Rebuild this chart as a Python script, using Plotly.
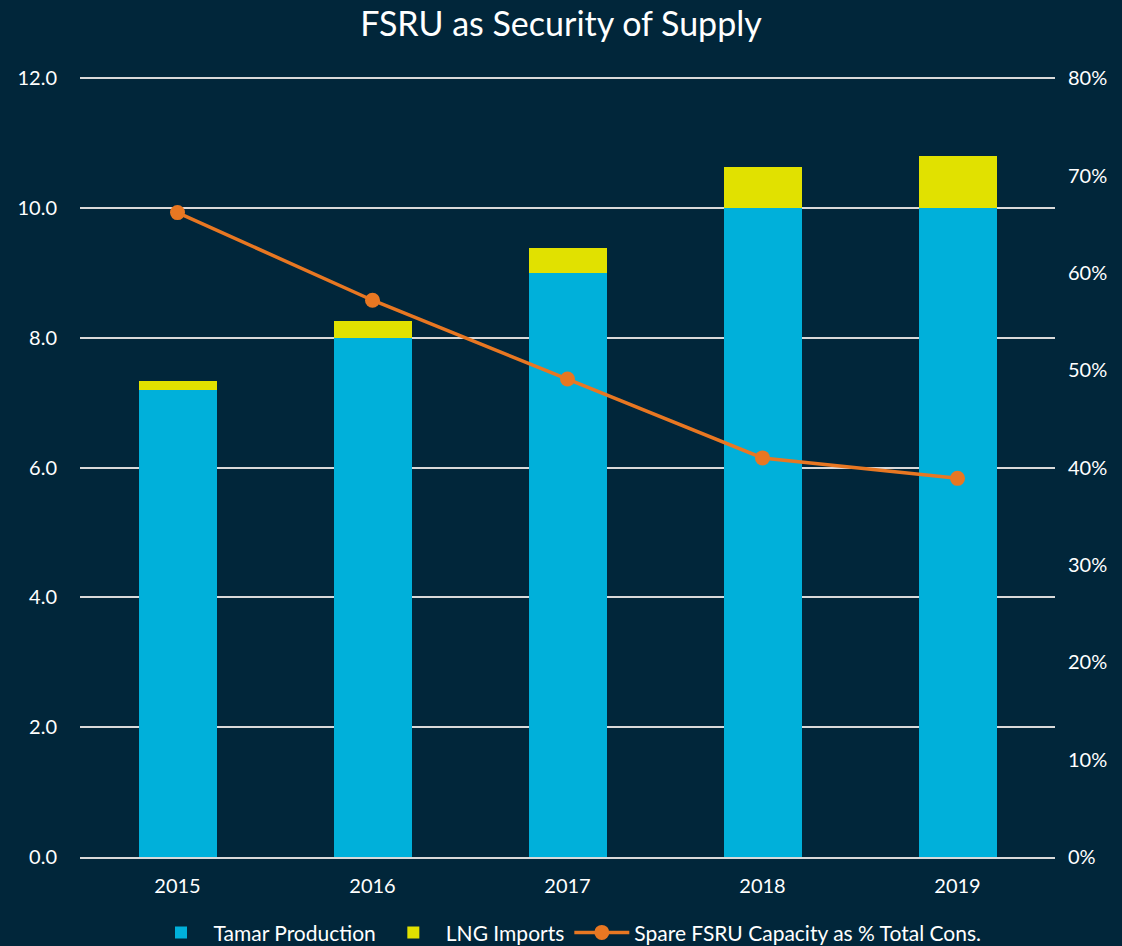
import plotly.graph_objects as go

years = ["2015", "2016", "2017", "2018", "2019"]
tamar = [7.2, 8.0, 9.0, 10.0, 10.0]
lng = [0.14, 0.26, 0.38, 0.63, 0.80]
spare_pct = [66.2, 57.2, 49.1, 41.0, 38.9]
left_ticks = [0, 2, 4, 6, 8, 10, 12]
right_ticks = [0, 10, 20, 30, 40, 50, 60, 70, 80]

BG = "#01263A"
FONT = "Lato"

fig = go.Figure()
fig.add_trace(go.Bar(x=years, y=tamar, name="Tamar Production", marker_color="#00B0DA",
                     marker_line_width=0, width=0.4))
fig.add_trace(go.Bar(x=years, y=lng, name="LNG Imports", marker_color="#E1E100",
                     marker_line_width=0, width=0.4))
fig.add_trace(go.Scatter(x=years, y=spare_pct, name="Spare FSRU Capacity as % Total Cons.",
                         mode="lines+markers", yaxis="y2",
                         line=dict(color="#E87722", width=3.5),
                         marker=dict(color="#E87722", size=15)))

fig.update_layout(
    barmode="stack",
    width=1122, height=946,
    paper_bgcolor=BG, plot_bgcolor=BG,
    font=dict(family=FONT, color="white", size=20),
    title=dict(text="FSRU as Security of Supply", x=0.5, xanchor="center", y=0.975, yanchor="middle",
               font=dict(size=34, family=FONT, color="white")),
    margin=dict(l=80, r=67, t=77, b=89),
    showlegend=True,
    legend=dict(orientation="h", x=0.5, xanchor="center", yref="container", y=0.014, yanchor="middle",
                font=dict(size=21, color="white"), bgcolor="rgba(0,0,0,0)", traceorder="normal",
                itemwidth=55),
    xaxis=dict(showgrid=False, showline=True, linecolor="#D9D9D9", linewidth=1.5,
               ticks="", ticklabelstandoff=10, tickfont=dict(size=20, color="white")),
    yaxis=dict(range=[0, 12.02], tickvals=left_ticks, ticktext=["%.1f" % v for v in left_ticks],
               showgrid=True, gridcolor="#D9D9D9",
               gridwidth=1.5, zeroline=False, ticks="", ticklabelstandoff=22,
               tickfont=dict(size=20, color="white")),
    yaxis2=dict(range=[0, 80 * 12.02 / 12], tickvals=right_ticks,
                ticktext=["%d%%" % v for v in right_ticks], overlaying="y", side="right",
                showgrid=False, zeroline=False, ticks="", ticklabelstandoff=12,
                tickfont=dict(size=20, color="white")),
    bargap=0.6,
)

fig.write_html("out.html", config={"displayModeBar": False},
               post_script="document.body.style.margin='0';document.body.style.background='%s';" % BG)
